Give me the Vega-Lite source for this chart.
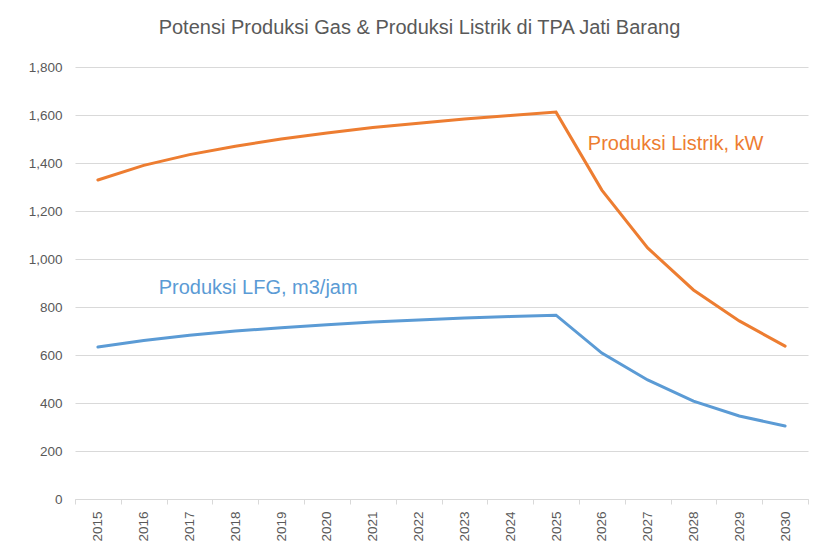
{
  "$schema": "https://vega.github.io/schema/vega-lite/v6.json",
  "width": 733,
  "height": 432,
  "autosize": {"type": "none"},
  "padding": {"left": 75, "top": 67, "right": 7, "bottom": 52},
  "background": "white",
  "config": {
    "font": "Liberation Sans",
    "view": {"stroke": null},
    "axis": {"labelFont": "Liberation Sans", "labelColor": "#595959", "labelFontSize": 13.5}
  },
  "title": {
    "text": "Potensi Produksi Gas & Produksi Listrik di TPA Jati Barang",
    "font": "Liberation Sans",
    "fontSize": 20,
    "fontWeight": "normal",
    "color": "#595959",
    "anchor": "middle",
    "dx": -22,
    "offset": 22
  },
  "datasets": {
    "series": [
      {"year": "2015", "series": "Produksi Listrik, kW", "value": 1329},
      {"year": "2016", "series": "Produksi Listrik, kW", "value": 1390},
      {"year": "2017", "series": "Produksi Listrik, kW", "value": 1435},
      {"year": "2018", "series": "Produksi Listrik, kW", "value": 1470},
      {"year": "2019", "series": "Produksi Listrik, kW", "value": 1500},
      {"year": "2020", "series": "Produksi Listrik, kW", "value": 1525},
      {"year": "2021", "series": "Produksi Listrik, kW", "value": 1548},
      {"year": "2022", "series": "Produksi Listrik, kW", "value": 1566},
      {"year": "2023", "series": "Produksi Listrik, kW", "value": 1583},
      {"year": "2024", "series": "Produksi Listrik, kW", "value": 1598},
      {"year": "2025", "series": "Produksi Listrik, kW", "value": 1612},
      {"year": "2026", "series": "Produksi Listrik, kW", "value": 1287},
      {"year": "2027", "series": "Produksi Listrik, kW", "value": 1046},
      {"year": "2028", "series": "Produksi Listrik, kW", "value": 871},
      {"year": "2029", "series": "Produksi Listrik, kW", "value": 742},
      {"year": "2030", "series": "Produksi Listrik, kW", "value": 637},
      {"year": "2015", "series": "Produksi LFG, m3/jam", "value": 633},
      {"year": "2016", "series": "Produksi LFG, m3/jam", "value": 660},
      {"year": "2017", "series": "Produksi LFG, m3/jam", "value": 682},
      {"year": "2018", "series": "Produksi LFG, m3/jam", "value": 700},
      {"year": "2019", "series": "Produksi LFG, m3/jam", "value": 714},
      {"year": "2020", "series": "Produksi LFG, m3/jam", "value": 726},
      {"year": "2021", "series": "Produksi LFG, m3/jam", "value": 737},
      {"year": "2022", "series": "Produksi LFG, m3/jam", "value": 746},
      {"year": "2023", "series": "Produksi LFG, m3/jam", "value": 754},
      {"year": "2024", "series": "Produksi LFG, m3/jam", "value": 760},
      {"year": "2025", "series": "Produksi LFG, m3/jam", "value": 766},
      {"year": "2026", "series": "Produksi LFG, m3/jam", "value": 608},
      {"year": "2027", "series": "Produksi LFG, m3/jam", "value": 496},
      {"year": "2028", "series": "Produksi LFG, m3/jam", "value": 408},
      {"year": "2029", "series": "Produksi LFG, m3/jam", "value": 346},
      {"year": "2030", "series": "Produksi LFG, m3/jam", "value": 304}
    ],
    "labelA": [
      {"year": "2027", "series": "Produksi Listrik, kW", "value": 1479}
    ],
    "labelB": [
      {"year": "2019", "series": "Produksi LFG, m3/jam", "value": 879}
    ]
  },
  "layer": [
    {
      "data": {"name": "series"},
      "mark": {"type": "line", "strokeWidth": 3, "strokeCap": "round"},
      "encoding": {
        "x": {
          "field": "year", "type": "ordinal", "title": null,
          "scale": {"paddingInner": 0, "paddingOuter": 0},
          "axis": {
            "labelAngle": -90, "tickBand": "extent",
            "domainColor": "#d9d9d9", "tickColor": "#d9d9d9", "tickSize": 5,
            "labelPadding": 7, "grid": false, "labelBaseline": "middle", "labelAlign": "right"
          }
        },
        "y": {
          "field": "value", "type": "quantitative", "title": null,
          "scale": {"domain": [0, 1800], "nice": false},
          "axis": {
            "values": [0, 200, 400, 600, 800, 1000, 1200, 1400, 1600, 1800],
            "format": ",.0f", "domain": false, "ticks": false, "labelPadding": 13,
            "gridColor": "#d9d9d9", "gridWidth": 1
          }
        },
        "color": {
          "field": "series", "type": "nominal", "legend": null,
          "scale": {"domain": ["Produksi Listrik, kW", "Produksi LFG, m3/jam"], "range": ["#ED7D31", "#5B9BD5"]}
        }
      }
    },
    {
      "data": {"name": "labelA"},
      "mark": {"type": "text", "fontSize": 20, "font": "Liberation Sans", "align": "center", "baseline": "middle", "dx": 28},
      "encoding": {
        "x": {"field": "year", "type": "ordinal"},
        "y": {"field": "value", "type": "quantitative"},
        "text": {"field": "series"},
        "color": {"field": "series", "type": "nominal", "legend": null}
      }
    },
    {
      "data": {"name": "labelB"},
      "mark": {"type": "text", "fontSize": 20, "font": "Liberation Sans", "align": "center", "baseline": "middle", "dx": -23},
      "encoding": {
        "x": {"field": "year", "type": "ordinal"},
        "y": {"field": "value", "type": "quantitative"},
        "text": {"field": "series"},
        "color": {"field": "series", "type": "nominal", "legend": null}
      }
    }
  ]
}
